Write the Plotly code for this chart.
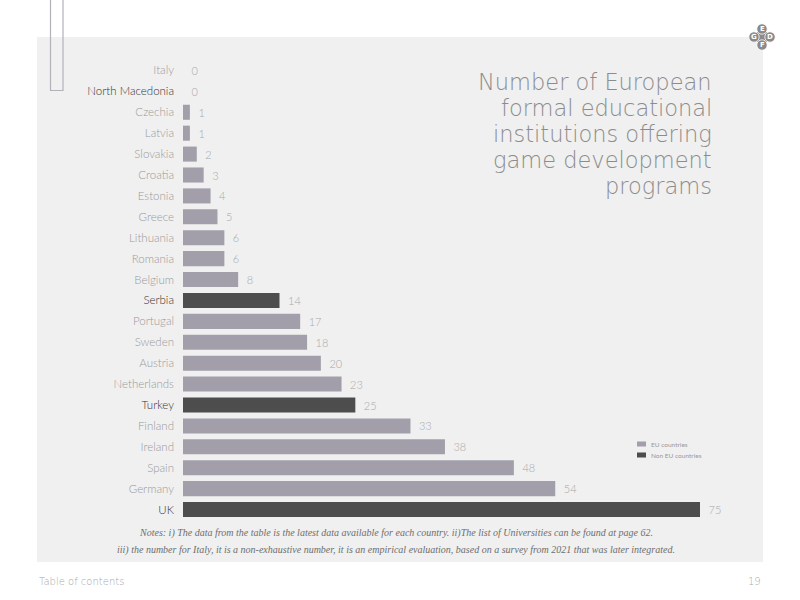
import plotly.graph_objects as go

countries = ["Italy", "North Macedonia", "Czechia", "Latvia", "Slovakia", "Croatia", "Estonia",
             "Greece", "Lithuania", "Romania", "Belgium", "Serbia", "Portugal", "Sweden", "Austria",
             "Netherlands", "Turkey", "Finland", "Ireland", "Spain", "Germany", "UK"]
values = [0, 0, 1, 1, 2, 3, 4, 5, 6, 6, 8, 14, 17, 18, 20, 23, 25, 33, 38, 48, 54, 75]
groups = ["EU", "Non EU", "EU", "EU", "EU", "EU", "EU", "EU", "EU", "EU", "EU", "Non EU",
          "EU", "EU", "EU", "EU", "Non EU", "EU", "EU", "EU", "EU", "Non EU"]
legend_labels = ["EU countries", "Non EU countries"]
title_lines = ["Number of European", "formal educational", "institutions offering",
               "game development", "programs"]

BAR = {"EU": "#a29fab", "Non EU": "#4d4d4d"}
LAB = {"EU": "#9a9a9a", "Non EU": "#333333"}

W, H = 800, 600
L, R, T, B = 183, 38, 60, 80
PW, PH = W - L - R, H - T - B
def px(x):
    return (x - L) / PW
def py(y):
    return (H - B - y) / PH

ticktext = [f"<span style='color:{LAB[g]}'>{c}</span>" for c, g in zip(countries, groups)]

fig = go.Figure()
fig.add_trace(go.Bar(
    x=values, y=countries, orientation="h",
    marker=dict(color=[BAR[g] for g in groups], line=dict(width=0)),
    text=["\u2002" + str(v) for v in values], textposition="outside",
    textfont=dict(color="#a8a8a8", size=11, family="Lato", weight=300),
    cliponaxis=False, showlegend=False, hoverinfo="skip",
))

shapes = []
annotations = []
# grey panel
shapes.append(dict(type="rect", xref="paper", yref="paper", x0=px(37), x1=px(763), y0=py(562), y1=py(37),
                   fillcolor="#f0f0f0", line=dict(width=0), layer="below"))
# top-left outline bracket
shapes.append(dict(type="rect", xref="paper", yref="paper", x0=px(50.5), x1=px(63), y0=py(90.5), y1=py(-5),
                   fillcolor="rgba(0,0,0,0)", line=dict(color="#b4b1bb", width=1.2), layer="above"))

# title
for i, line in enumerate(title_lines):
    annotations.append(dict(text=line, xref="paper", yref="paper", x=px(714), y=py(82 + i * 26),
                            xanchor="right", yanchor="middle", showarrow=False,
                            font=dict(family="DejaVu Sans", size=22.5, color="#8c8c8c", weight=200)))

# legend (manual)
for i, (lab, g) in enumerate(zip(legend_labels, ["EU", "Non EU"])):
    yc = 444 + i * 11
    shapes.append(dict(type="rect", xref="paper", yref="paper", x0=px(637), x1=px(646), y0=py(yc + 2.5),
                       y1=py(yc - 2.5), fillcolor=BAR[g], line=dict(width=0)))
    annotations.append(dict(text=lab, xref="paper", yref="paper", x=px(649), y=py(yc), xanchor="left",
                            yanchor="middle", showarrow=False,
                            font=dict(family="Lato", size=6.5, color="#999999")))

# notes
notes = ["Notes: i) The data from the table is the latest data available for each country. ii)The list of Universities can be found at page 62.",
         "iii) the number for Italy, it is a non-exhaustive number, it is an empirical evaluation, based on a survey from 2021 that was later integrated."]
for i, n in enumerate(notes):
    annotations.append(dict(text=n, xref="paper", yref="paper", x=px(396), y=py(533 + i * 17),
                            xanchor="center", yanchor="middle", showarrow=False,
                            font=dict(family="Liberation Serif", size=10, color="#6e6e6e", style="italic")))

# footer
annotations.append(dict(text="Table of contents", xref="paper", yref="paper", x=px(37), y=py(581),
                        xanchor="left", yanchor="middle", showarrow=False,
                        font=dict(family="DejaVu Sans", size=10, color="#a8a8a8", weight=200)))
annotations.append(dict(text="19", xref="paper", yref="paper", x=px(763), y=py(581),
                        xanchor="right", yanchor="middle", showarrow=False,
                        font=dict(family="DejaVu Sans", size=10, color="#a8a8a8", weight=200)))

# logo
logo = [("E", 762, 29), ("G", 754, 37), ("D", 770, 37), ("F", 762, 45)]
shapes.append(dict(type="rect", xref="paper", yref="paper", x0=px(757), x1=px(767), y0=py(42), y1=py(32),
                   fillcolor="#8a8a8a", line=dict(width=0), layer="above"))
for ch, cx, cy in logo:
    r = 5.2
    shapes.append(dict(type="circle", xref="paper", yref="paper", x0=px(cx - r), x1=px(cx + r),
                       y0=py(cy + r), y1=py(cy - r), fillcolor="#8a8a8a", line=dict(color="#ffffff", width=0.8),
                       layer="above"))
    annotations.append(dict(text=ch, xref="paper", yref="paper", x=px(cx), y=py(cy), xanchor="center",
                            yanchor="middle", showarrow=False,
                            font=dict(family="DejaVu Sans", size=7, color="#ffffff", weight="bold")))

fig.update_layout(
    width=W, height=H, margin=dict(l=L, r=R, t=T, b=B),
    paper_bgcolor="#ffffff", plot_bgcolor="rgba(0,0,0,0)",
    bargap=0.28, shapes=shapes, annotations=annotations,
    xaxis=dict(range=[0, 75 * PW / (700 - L)], visible=False, fixedrange=True),
    yaxis=dict(tickmode="array", tickvals=countries, ticktext=ticktext, range=[21.5, -0.5],
               showgrid=False, zeroline=False, showline=False, ticks="", ticklabelstandoff=8,
               tickfont=dict(family="Lato", size=11.5, color="#9a9a9a", weight=300)),
    showlegend=False,
)
fig.write_html("out.html")
